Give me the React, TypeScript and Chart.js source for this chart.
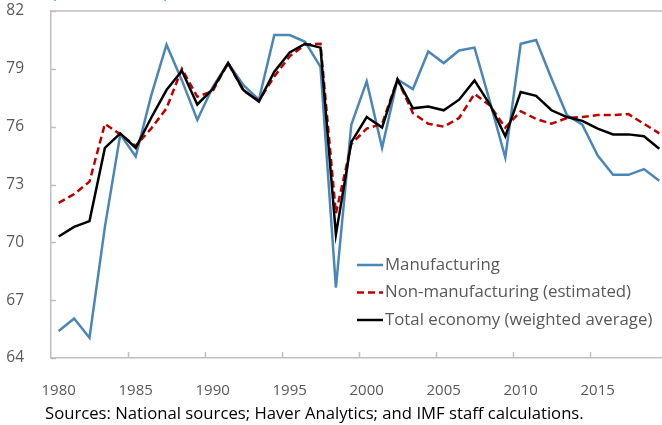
import React, { useEffect, useRef } from "react";
import { Chart, registerables } from "chart.js";

Chart.register(...registerables);

const years = [
  1980, 1981, 1982, 1983, 1984, 1985, 1986, 1987, 1988, 1989,
  1990, 1991, 1992, 1993, 1994, 1995, 1996, 1997, 1998, 1999,
  2000, 2001, 2002, 2003, 2004, 2005, 2006, 2007, 2008, 2009,
  2010, 2011, 2012, 2013, 2014, 2015, 2016, 2017, 2018, 2019,
];

const manufacturing = [
  65.4, 66.05, 65.05, 70.8, 75.6, 74.45, 77.6, 80.25, 78.4, 76.35,
  78.05, 79.3, 78.15, 77.4, 80.75, 80.75, 80.4, 79.1, 67.65, 76.1,
  78.35, 74.9, 78.45, 77.95, 79.9, 79.3, 79.95, 80.1, 77.3, 74.4,
  80.3, 80.5, 78.5, 76.6, 76.1, 74.5, 73.5, 73.5, 73.8, 73.2,
];

const nonManufacturing = [
  72.05, 72.5, 73.15, 76.15, 75.6, 75.0, 75.9, 76.95, 79.0, 77.55,
  77.85, 79.3, 77.85, 77.35, 78.6, 79.65, 80.25, 80.3, 71.5, 75.1,
  75.9, 76.15, 78.45, 76.7, 76.15, 76.0, 76.45, 77.7, 77.1, 75.95,
  76.8, 76.4, 76.15, 76.45, 76.5, 76.6, 76.6, 76.65, 76.15, 75.65,
];

const totalEconomy = [
  70.3, 70.8, 71.1, 74.9, 75.65, 74.9, 76.45, 77.9, 78.9, 77.15,
  77.95, 79.3, 77.9, 77.3, 78.85, 79.85, 80.3, 80.1, 70.4, 75.2,
  76.5, 75.95, 78.45, 76.95, 77.05, 76.85, 77.4, 78.4, 77.15, 75.5,
  77.8, 77.6, 76.85, 76.5, 76.3, 75.9, 75.6, 75.6, 75.5, 74.85,
];

const seriesLabels = [
  "Manufacturing",
  "Non-manufacturing (estimated)",
  "Total economy (weighted average)",
];

const yTicks = [64, 67, 70, 73, 76, 79, 82];

const unitNote = "(Percent of total)";
const sourceNote = "Sources: National sources; Haver Analytics; and IMF staff calculations.";

const FONT = "'Open Sans', 'Noto Sans', sans-serif";
const TEXT_GREY = "#595959";
const AXIS_GREY = "#BFBFBF";

const decorPlugin = {
  id: "decor",
  afterDraw(chart: any) {
    const ctx = chart.ctx;
    const area = chart.chartArea;
    const xs = chart.scales.x;
    const ys = chart.scales.y;
    ctx.save();
    // top border of plot area
    ctx.strokeStyle = AXIS_GREY;
    ctx.lineWidth = 1.5;
    ctx.beginPath();
    ctx.moveTo(area.left, area.top);
    ctx.lineTo(area.right, area.top);
    ctx.stroke();
    // inward y tick marks
    ctx.beginPath();
    yTicks.forEach((v) => {
      const py = Math.round(ys.getPixelForValue(v)) + 0.5;
      ctx.moveTo(area.left, py);
      ctx.lineTo(area.left + 5, py);
    });
    // upward x tick marks between categories, every 5 years
    years.forEach((yr, i) => {
      if (i > 0 && yr % 5 === 0) {
        const px = Math.round(xs.getPixelForValue(i - 0.5)) + 0.5;
        ctx.moveTo(px, area.bottom);
        ctx.lineTo(px, area.bottom - 6);
      }
    });
    ctx.stroke();

    // legend
    const lx = area.left + 306;
    const rows = [area.top + 254, area.top + 281.5, area.top + 309];
    chart.data.datasets.forEach((ds: any, i: number) => {
      const y = rows[i];
      ctx.strokeStyle = ds.borderColor;
      ctx.lineWidth = ds.borderWidth;
      ctx.setLineDash(ds.borderDash || []);
      ctx.beginPath();
      ctx.moveTo(lx, y);
      ctx.lineTo(lx + 26, y);
      ctx.stroke();
      ctx.setLineDash([]);
      ctx.fillStyle = TEXT_GREY;
      ctx.font = `16.8px ${FONT}`;
      ctx.textAlign = "left";
      ctx.textBaseline = "middle";
      ctx.fillText(ds.label, lx + 28, y);
    });

    // unit note (cut off at top)
    ctx.fillStyle = "#4A86B8";
    ctx.font = `15px ${FONT}`;
    ctx.textBaseline = "alphabetic";
    ctx.fillText(unitNote, area.left + 1, -2);

    // source note
    ctx.fillStyle = "#000000";
    ctx.font = `16.7px ${FONT}`;
    ctx.textBaseline = "middle";
    ctx.fillText(sourceNote, 45, 414);
    ctx.restore();
  },
};

export default function App() {
  const canvasRef = useRef<HTMLCanvasElement | null>(null);

  useEffect(() => {
    const canvas = canvasRef.current;
    if (!canvas) return;
    const chart = new Chart(canvas, {
      type: "line",
      data: {
        labels: years.map(String),
        datasets: [
          {
            label: seriesLabels[0],
            data: manufacturing,
            borderColor: "#4A86B8",
            borderWidth: 2.5,
            pointRadius: 0,
            tension: 0,
            fill: false,
            order: 3,
          },
          {
            label: seriesLabels[1],
            data: nonManufacturing,
            borderColor: "#C00000",
            borderWidth: 2.5,
            borderDash: [7, 4],
            pointRadius: 0,
            tension: 0,
            fill: false,
            order: 2,
          },
          {
            label: seriesLabels[2],
            data: totalEconomy,
            borderColor: "#000000",
            borderWidth: 2.5,
            pointRadius: 0,
            tension: 0,
            fill: false,
            order: 1,
          },
        ],
      },
      options: {
        responsive: false,
        animation: false,
        devicePixelRatio: 1,
        layout: { padding: { left: 0, top: 11, right: 1, bottom: 0 } },
        plugins: {
          legend: { display: false },
          tooltip: { enabled: false },
          title: { display: false },
        },
        scales: {
          x: {
            type: "category",
            offset: true,
            grid: { display: false },
            border: { display: true, color: AXIS_GREY, width: 1.5 },
            ticks: {
              autoSkip: false,
              maxRotation: 0,
              minRotation: 0,
              padding: 16,
              color: TEXT_GREY,
              font: { family: FONT, size: 15 },
              callback: (_v: any, i: number) =>
                years[i] % 5 === 0 ? String(years[i]) : "",
            },
            afterFit: (scale: any) => {
              scale.height = 67;
              scale.paddingLeft = 0;
              scale.paddingRight = 0;
            },
          },
          y: {
            min: 64,
            max: 82,
            grid: { display: false },
            border: { display: true, color: AXIS_GREY, width: 1.5 },
            ticks: {
              stepSize: 3,
              padding: 19,
              color: TEXT_GREY,
              font: { family: FONT, size: 15.5 },
            },
            afterFit: (scale: any) => {
              scale.width = 51;
              scale.paddingTop = 0;
              scale.paddingBottom = 0;
            },
          },
        },
      },
      plugins: [decorPlugin],
    });
    return () => chart.destroy();
  }, []);

  return (
    <div
      style={{
        position: "fixed",
        left: 0,
        top: 0,
        width: 662,
        height: 425,
        overflow: "hidden",
        background: "#ffffff",
      }}
    >
      <canvas ref={canvasRef} width={668} height={425} style={{ display: "block" }} />
    </div>
  );
}
